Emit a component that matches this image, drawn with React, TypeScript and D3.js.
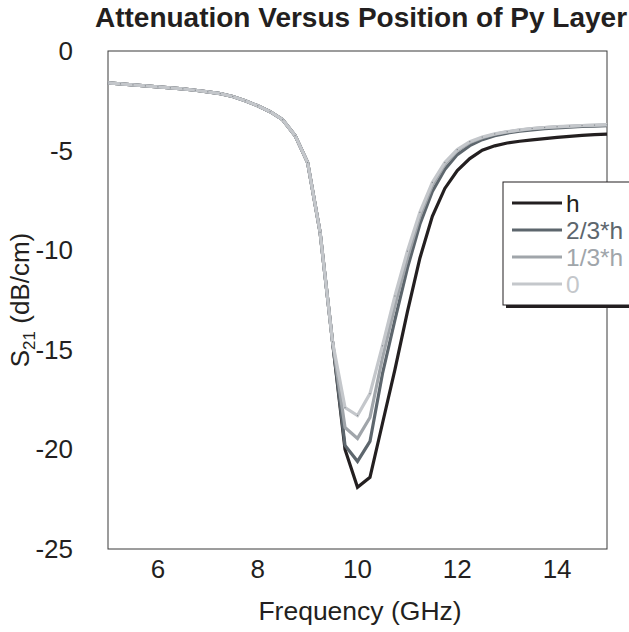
import React from "react";
import * as d3 from "d3";

const freq = [5.0, 5.25, 5.5, 5.75, 6.0, 6.25, 6.5, 6.75, 7.0, 7.25, 7.5, 7.75, 8.0, 8.25, 8.5, 8.75, 9.0, 9.25, 9.5, 9.75, 10.0, 10.25, 10.5, 10.75, 11.0, 11.25, 11.5, 11.75, 12.0, 12.25, 12.5, 12.75, 13.0, 13.25, 13.5, 13.75, 14.0, 14.25, 14.5, 14.75, 15.0];

const sH = [-1.6, -1.65, -1.7, -1.75, -1.8, -1.85, -1.9, -1.97, -2.05, -2.14, -2.28, -2.5, -2.75, -3.05, -3.45, -4.25, -5.6, -9.1, -14.6, -20.0, -21.9, -21.4, -18.7, -16.0, -13.1, -10.4, -8.3, -6.9, -6.0, -5.4, -4.98, -4.76, -4.62, -4.53, -4.46, -4.4, -4.34, -4.29, -4.24, -4.2, -4.17];
const s23H = [-1.6, -1.65, -1.7, -1.75, -1.8, -1.85, -1.9, -1.97, -2.05, -2.14, -2.28, -2.5, -2.75, -3.05, -3.45, -4.25, -5.6, -9.1, -14.6, -19.8, -20.6, -19.6, -16.2, -13.5, -10.9, -8.7, -7.05, -5.95, -5.2, -4.75, -4.45, -4.25, -4.12, -4.03, -3.96, -3.9, -3.86, -3.82, -3.79, -3.77, -3.75];
const s13H = [-1.6, -1.65, -1.7, -1.75, -1.8, -1.85, -1.9, -1.97, -2.05, -2.14, -2.28, -2.5, -2.75, -3.05, -3.45, -4.25, -5.6, -9.1, -14.6, -18.9, -19.45, -18.4, -15.4, -12.8, -10.4, -8.3, -6.75, -5.7, -5.0, -4.6, -4.35, -4.18, -4.06, -3.97, -3.9, -3.85, -3.81, -3.78, -3.75, -3.73, -3.71];
const s0 = [-1.6, -1.65, -1.7, -1.75, -1.8, -1.85, -1.9, -1.97, -2.05, -2.14, -2.28, -2.5, -2.75, -3.05, -3.45, -4.25, -5.6, -9.1, -14.6, -17.9, -18.3, -17.2, -14.8, -12.3, -10.05, -8.1, -6.6, -5.6, -4.95, -4.55, -4.32, -4.16, -4.05, -3.96, -3.89, -3.84, -3.8, -3.77, -3.74, -3.72, -3.7];

const seriesNames = ["h", "2/3*h", "1/3*h", "0"];
const seriesValues = [sH, s23H, s13H, s0];
const seriesColors = ["#231f20", "#5d666d", "#a0a5aa", "#c4c7cb"];

const xTicks = [6, 8, 10, 12, 14];
const yTicks = [0, -5, -10, -15, -20, -25];

const W = 629;
const H = 632;
const M = { left: 108, right: 607, top: 51, bottom: 549 };
const FONT = "'Liberation Sans', Arial, Helvetica, sans-serif";

export default function App() {
  const x = d3.scaleLinear().domain([5, 15]).range([M.left, M.right]);
  const y = d3.scaleLinear().domain([-25, 0]).range([M.bottom, M.top]);
  const line = d3
    .line<number>()
    .x((_, i) => x(freq[i]))
    .y((d) => y(d));

  const legX = 503;
  const legY = 182;
  const legW = 150;
  const legH = 123;
  const rowY = [203, 230, 257, 284];

  return (
    <svg
      width={W}
      height={H}
      style={{ position: "absolute", left: 0, top: 0, display: "block", background: "#fff" }}
      fontFamily={FONT}
    >
      <rect x={0} y={0} width={W} height={H} fill="#fff" />
      <text x={361} y={27} textAnchor="middle" fontSize={28} fontWeight="bold" fill="#231f20">
        Attenuation Versus Position of Py Layer
      </text>

      {/* frame */}
      <rect
        x={M.left}
        y={M.top}
        width={M.right - M.left}
        height={M.bottom - M.top}
        fill="none"
        stroke="#3a3a3a"
        strokeWidth={1}
      />

      {/* series */}
      {seriesValues.map((vals, si) => (
        <path
          key={seriesNames[si]}
          d={line(vals) || ""}
          fill="none"
          stroke={seriesColors[si]}
          strokeWidth={3.2}
          strokeLinejoin="miter"
        />
      ))}
      {s0.map((v, i) => (
        <rect key={i} x={x(freq[i]) - 0.6} y={y(v) - 0.6} width={1.2} height={1.2} fill="#8a8f94" />
      ))}

      {/* x ticks */}
      {xTicks.map((t) => (
        <text key={t} x={x(t)} y={578} textAnchor="middle" fontSize={26} fill="#231f20">
          {t}
        </text>
      ))}
      {/* y ticks */}
      {yTicks.map((t) => (
        <text key={t} x={73} y={y(t) + 9} textAnchor="end" fontSize={26} fill="#231f20">
          {t}
        </text>
      ))}

      <text x={360} y={620} textAnchor="middle" fontSize={26.5} fill="#231f20">
        Frequency (GHz)
      </text>
      <text transform="translate(29,300) rotate(-90)" textAnchor="middle" fontSize={26} fill="#231f20">
        S<tspan fontSize={17} dy={6}>21</tspan>
        <tspan dy={-6}> (dB/cm)</tspan>
      </text>

      {/* legend */}
      <rect x={legX + 3} y={legY + 3} width={legW} height={legH} fill="#231f20" />
      <rect x={legX} y={legY} width={legW} height={legH} fill="#fff" stroke="#231f20" strokeWidth={1} />
      {seriesNames.map((n, i) => (
        <g key={n}>
          <line x1={512} x2={562} y1={rowY[i]} y2={rowY[i]} stroke={seriesColors[i]} strokeWidth={3.2} />
          <text x={566} y={rowY[i] + 8.5} fontSize={24.5} fill={seriesColors[i]}>
            {n}
          </text>
        </g>
      ))}
    </svg>
  );
}
